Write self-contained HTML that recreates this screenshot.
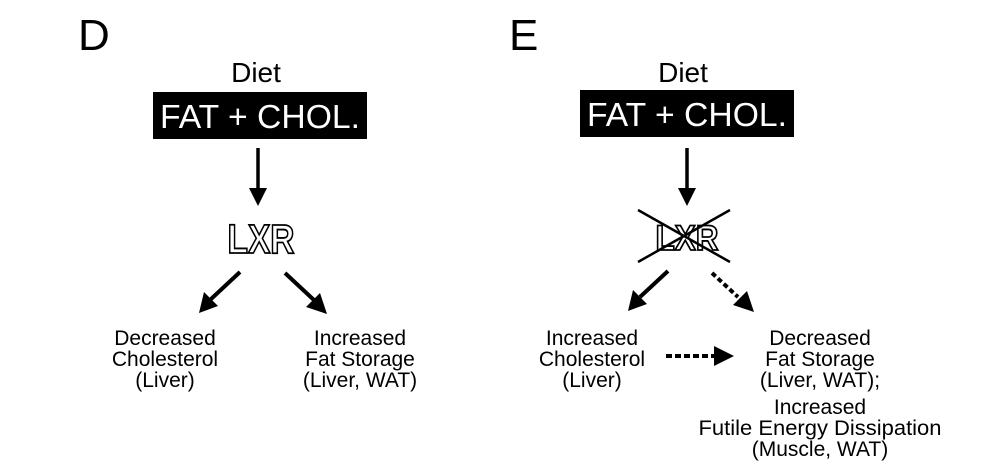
<!DOCTYPE html>
<html><head><meta charset="utf-8"><style>
html,body{margin:0;padding:0;background:#fff;}
svg{display:block;}
text{font-family:"Liberation Sans",Arial,sans-serif;fill:#000;}
</style></head><body>
<svg width="994" height="476" viewBox="0 0 994 476" xmlns="http://www.w3.org/2000/svg">
<!-- D -->
<text x="78" y="50" font-size="44">D</text>
<text x="256" y="82" font-size="28" text-anchor="middle">Diet</text>
<rect x="153" y="92" width="214" height="47" fill="#000"/>
<text x="260" y="128" font-size="33" text-anchor="middle" textLength="200" lengthAdjust="spacingAndGlyphs" style="fill:#fff">FAT + CHOL.</text>
<line x1="258" y1="148" x2="258" y2="190" stroke="#000" stroke-width="3.5"/>
<path d="M249,188 L267,188 L258,206 z" fill="#000"/>
<text x="261" y="253" font-size="41" font-weight="bold" text-anchor="middle" textLength="67" lengthAdjust="spacingAndGlyphs" style="fill:#fff;stroke:#000;stroke-width:1.8">LXR</text>
<line x1="240" y1="272" x2="210" y2="300" stroke="#000" stroke-width="4"/>
<path d="M199,313 L204,292 L218,306 z" fill="#000"/>
<line x1="285" y1="273" x2="315" y2="301" stroke="#000" stroke-width="4"/>
<path d="M327,314 L306,307 L320,293 z" fill="#000"/>
<g font-size="21" text-anchor="middle">
<text x="165" y="345">Decreased</text>
<text x="165" y="366">Cholesterol</text>
<text x="165" y="387">(Liver)</text>
<text x="360" y="345">Increased</text>
<text x="360" y="366">Fat Storage</text>
<text x="360" y="387">(Liver, WAT)</text>
</g>
<!-- E -->
<text x="509" y="50" font-size="44">E</text>
<text x="683" y="82" font-size="28" text-anchor="middle">Diet</text>
<rect x="580" y="90" width="214" height="47" fill="#000"/>
<text x="687" y="126" font-size="33" text-anchor="middle" textLength="200" lengthAdjust="spacingAndGlyphs" style="fill:#fff">FAT + CHOL.</text>
<line x1="687" y1="148" x2="687" y2="190" stroke="#000" stroke-width="3.5"/>
<path d="M678,188 L696,188 L687,206 z" fill="#000"/>
<text x="687" y="250" font-size="35" font-weight="bold" text-anchor="middle" textLength="63" lengthAdjust="spacingAndGlyphs" style="fill:#fff;stroke:#000;stroke-width:1.8">LXR</text>
<line x1="638" y1="210" x2="730" y2="262" stroke="#000" stroke-width="2.5"/>
<line x1="638" y1="262" x2="730" y2="210" stroke="#000" stroke-width="2.5"/>
<line x1="668" y1="271" x2="640" y2="297" stroke="#000" stroke-width="4"/>
<path d="M628,311 L633,290 L647,304 z" fill="#000"/>
<line x1="712" y1="273" x2="738" y2="297" stroke="#000" stroke-width="4" stroke-dasharray="5,3"/>
<path d="M754,312 L733,305 L747,291 z" fill="#000"/>
<line x1="666" y1="356" x2="718" y2="356" stroke="#000" stroke-width="4" stroke-dasharray="6,3"/>
<path d="M734,356 L714,346 L714,366 z" fill="#000"/>
<g font-size="21" text-anchor="middle">
<text x="592" y="345">Increased</text>
<text x="592" y="366">Cholesterol</text>
<text x="592" y="387">(Liver)</text>
<text x="820" y="345">Decreased</text>
<text x="820" y="366">Fat Storage</text>
<text x="820" y="387">(Liver, WAT);</text>
<text x="820" y="414">Increased</text>
<text x="820" y="435" textLength="243" lengthAdjust="spacingAndGlyphs">Futile Energy Dissipation</text>
<text x="820" y="456">(Muscle, WAT)</text>
</g>
</svg>
</body></html>
